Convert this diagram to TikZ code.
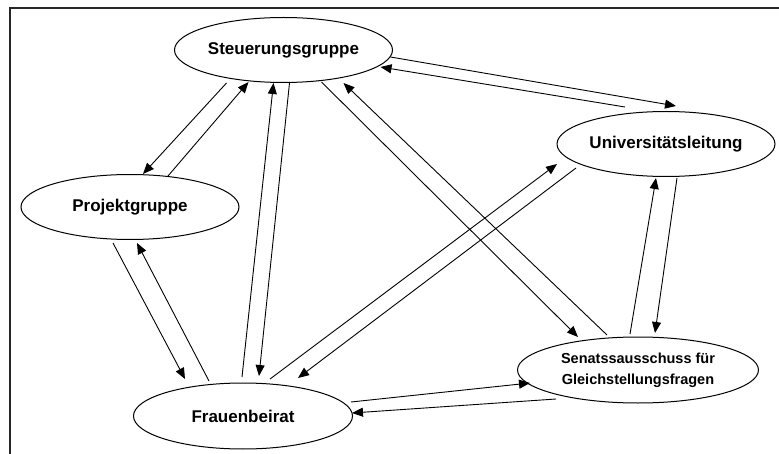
\documentclass[tikz,border=0pt]{standalone}
\usepackage{fontspec}
\setmainfont{Liberation Sans}
\usepackage{tikz}
\usetikzlibrary{arrows.meta,calc,shapes.geometric}
\tikzset{
	gremium/.style={draw,ellipse,line width=1pt,inner sep=0pt,
		minimum width=218pt,minimum height=65pt,
		font=\fontsize{17}{20}\selectfont\bfseries},
	ar/.style={line width=.9pt,-{Triangle[length=11pt,width=9pt]}},
	rahmen/.style={line width=1.5pt,black!85}
}

\begin{document}
\begin{tikzpicture}[x=1pt,y=-1pt]
   \useasboundingbox (0,0) rectangle (779,454);
   \draw [rahmen] (10,454) |- (779,8);
   \node [gremium] (steu) at (283.5,50) {Steuerungsgruppe};
   \node [gremium] (proj) at (130,207) {Projektgruppe};
   \node [gremium] (univ) at (666,144) {Universitätsleitung};
   \node [gremium, minimum width=241pt, minimum height=66pt, align=center,
      font=\fontsize{14.5}{21}\selectfont\bfseries] (sen) at (638,370)
      {Senatssausschuss für\\Gleichstellungsfragen};
   \node [gremium, minimum width=219pt, minimum height=66pt] (frau) at (243,416) {Frauenbeirat};
   % Steuerungsgruppe <-> Projektgruppe
   \draw [ar] ($(steu)+(-57,33)$) to ($(proj)+(13,-33)$);
   \draw [ar] ($(proj)+(38,-31)$) to ($(steu)+(-35,32)$);
   % Steuerungsgruppe <-> Frauenbeirat
   \draw [ar] ($(frau)+(-1,-39)$) to ($(steu)+(-10,33)$);
   \draw [ar] ($(steu)+(6,33)$) to ($(frau)+(16,-40)$);
   % Projektgruppe <-> Frauenbeirat
   \draw [ar] ($(proj)+(-17,36)$) to ($(frau)+(-58,-37)$);
   \draw [ar] ($(frau)+(-34,-35)$) to ($(proj)+(7,36)$);
   % Frauenbeirat <-> Universitaetsleitung
   \draw [ar] ($(frau)+(27,-37)$) to ($(univ)+(-109,20)$);
   \draw [ar] ($(univ)+(-90,24)$) to ($(frau)+(55,-38)$);
   % Frauenbeirat <-> Senatsausschuss
   \draw [ar] ($(frau)+(108,-14)$) to ($(sen)+(-108,13)$);
   \draw [ar] ($(sen)+(-82,29)$) to ($(frau)+(109,-3)$);
   % Steuerungsgruppe <-> Senatsausschuss
   \draw [ar] ($(steu)+(38,32)$) to ($(sen)+(-60,-33)$);
   \draw [ar] ($(sen)+(-31,-35)$) to ($(steu)+(60,33)$);
   % Steuerungsgruppe <-> Universitaetsleitung
   \draw [ar] ($(steu)+(107,7)$) to ($(univ)+(10,-38)$);
   \draw [ar] ($(univ)+(-41,-37)$) to ($(steu)+(97,17)$);
   % Senatsausschuss <-> Universitaetsleitung
   \draw [ar] ($(sen)+(-8,-36)$) to ($(univ)+(-10,34)$);
   \draw [ar] ($(univ)+(11,34)$) to ($(sen)+(17,-37)$);
\end{tikzpicture}
\end{document}
